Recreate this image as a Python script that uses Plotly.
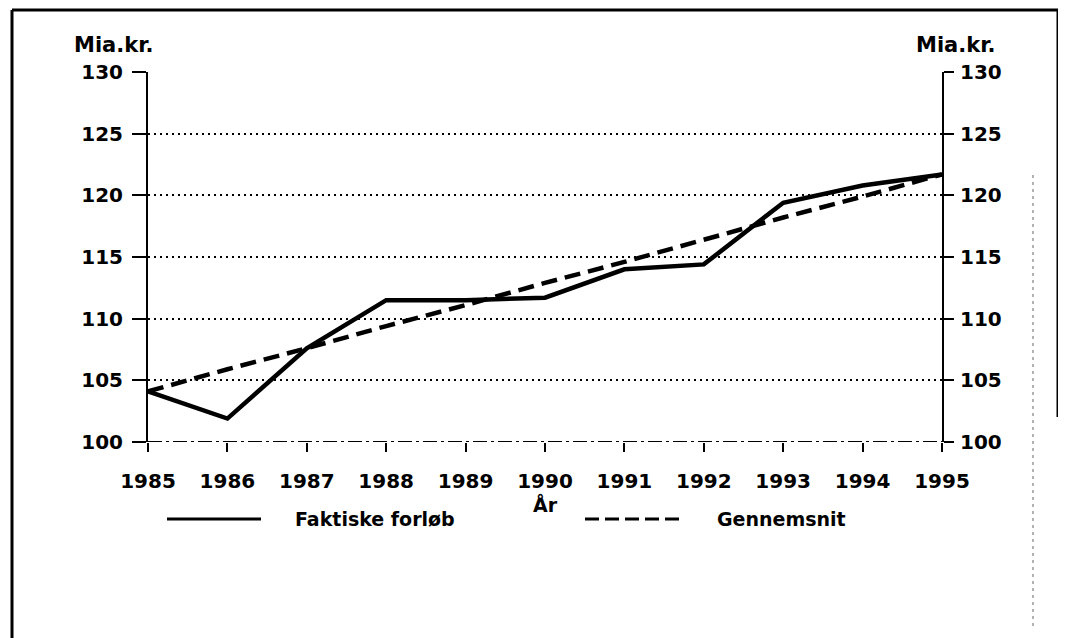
import plotly.graph_objects as go

years = [1985, 1986, 1987, 1988, 1989, 1990, 1991, 1992, 1993, 1994, 1995]
faktiske = [104.1, 101.9, 107.6, 111.5, 111.5, 111.7, 114.0, 114.4, 119.4, 120.8, 121.7]
gennemsnit = [104.1, 105.9, 107.6, 109.4, 111.1, 112.9, 114.6, 116.4, 118.2, 119.9, 121.7]
y_ticks = [100, 105, 110, 115, 120, 125, 130]
x_title = "År"
y_title = "Mia.kr."
legend_names = ["Faktiske forløb", "Gennemsnit"]

FIG_W, FIG_H = 1066, 638
OFF = 8  # page body margin offset
L, R, T, B = 148, 942, 72, 442  # target page pixel positions of plot area
PW, PH = R - L, B - T

def px(p):
    return (p - L) / PW

def py(p):
    return (B - p) / PH

FONT = "DejaVu Sans"

fig = go.Figure()
fig.add_trace(go.Scatter(x=years, y=faktiske, mode="lines", name=legend_names[0],
                         line=dict(color="black", width=4.5), showlegend=False))
fig.add_trace(go.Scatter(x=years, y=gennemsnit, mode="lines", name=legend_names[1],
                         line=dict(color="black", width=4.5, dash="16px,8px"), showlegend=False))
fig.add_trace(go.Scatter(x=years, y=gennemsnit, yaxis="y2", mode="lines",
                         line=dict(color="rgba(0,0,0,0)"), showlegend=False, hoverinfo="skip"))

axis_font = dict(family=FONT, size=20, color="black", weight="bold")

fig.update_layout(
    width=FIG_W, height=FIG_H,
    margin=dict(l=L - OFF, r=FIG_W - (R - OFF), t=T - OFF, b=FIG_H - (B - OFF), pad=0),
    paper_bgcolor="white", plot_bgcolor="white",
    font=dict(family=FONT, color="black"),
    xaxis=dict(range=[years[0], years[-1]], tickvals=years, ticktext=[str(y) for y in years],
               showgrid=False, zeroline=False, showline=False,
               ticks="outside", ticklen=9, tickwidth=2, tickcolor="black",
               tickfont=axis_font, ticklabelstandoff=12,
               title=dict(text=x_title, font=dict(family=FONT, size=19, color="black", weight="bold"),
                          standoff=0)),
    yaxis=dict(range=[y_ticks[0], y_ticks[-1]], tickvals=y_ticks,
               showgrid=True, gridcolor="black", gridwidth=2, griddash="2px,4px",
               zeroline=False, showline=True, linecolor="black", linewidth=2,
               ticks="outside", ticklen=14, tickwidth=2, tickcolor="black",
               tickfont=axis_font, ticklabelstandoff=5),
    yaxis2=dict(range=[y_ticks[0], y_ticks[-1]], tickvals=y_ticks, overlaying="y", side="right",
                showgrid=False, zeroline=False, showline=True, linecolor="black", linewidth=2,
                ticks="outside", ticklen=10, tickwidth=2, tickcolor="black",
                tickfont=axis_font, ticklabelstandoff=2),
)

shapes = []
# bottom baseline at 100 (dashed)
shapes.append(dict(type="line", xref="paper", yref="y", x0=0, x1=1, y0=y_ticks[0], y1=y_ticks[0],
                   line=dict(color="black", width=2, dash="14px,4px,3px,4px")))
# frame
shapes.append(dict(type="line", xref="paper", yref="paper", x0=px(12), x1=px(1058), y0=py(10), y1=py(10),
                   line=dict(color="black", width=3)))
shapes.append(dict(type="line", xref="paper", yref="paper", x0=px(12), x1=px(12), y0=py(10), y1=py(650),
                   line=dict(color="black", width=3)))
shapes.append(dict(type="line", xref="paper", yref="paper", x0=px(1058), x1=px(1058), y0=py(10), y1=py(417),
                   line=dict(color="black", width=3)))
shapes.append(dict(type="line", xref="paper", yref="paper", x0=px(1033), x1=px(1033), y0=py(175), y1=py(630),
                   line=dict(color="#666", width=1, dash="3px,4px")))
# legend samples
shapes.append(dict(type="line", xref="paper", yref="paper", x0=px(167), x1=px(261), y0=py(519), y1=py(519),
                   line=dict(color="black", width=3)))
shapes.append(dict(type="line", xref="paper", yref="paper", x0=px(585), x1=px(683), y0=py(519), y1=py(519),
                   line=dict(color="black", width=3, dash="14px,6px")))
fig.update_layout(shapes=shapes)

bold21 = dict(family=FONT, size=21, color="black", weight="bold")
bold19 = dict(family=FONT, size=19, color="black", weight="bold")
annotations = [
    dict(text=y_title, xref="paper", yref="paper", x=px(72), y=py(45), xanchor="left", yanchor="middle",
         showarrow=False, font=bold21),
    dict(text=y_title, xref="paper", yref="paper", x=px(998), y=py(45), xanchor="right", yanchor="middle",
         showarrow=False, font=bold21),
    dict(text=legend_names[0], xref="paper", yref="paper", x=px(293), y=py(519), xanchor="left", yanchor="middle",
         showarrow=False, font=bold19),
    dict(text=legend_names[1], xref="paper", yref="paper", x=px(715), y=py(519), xanchor="left", yanchor="middle",
         showarrow=False, font=bold19),
]
fig.update_layout(annotations=annotations)

fig.write_html("out.html")
